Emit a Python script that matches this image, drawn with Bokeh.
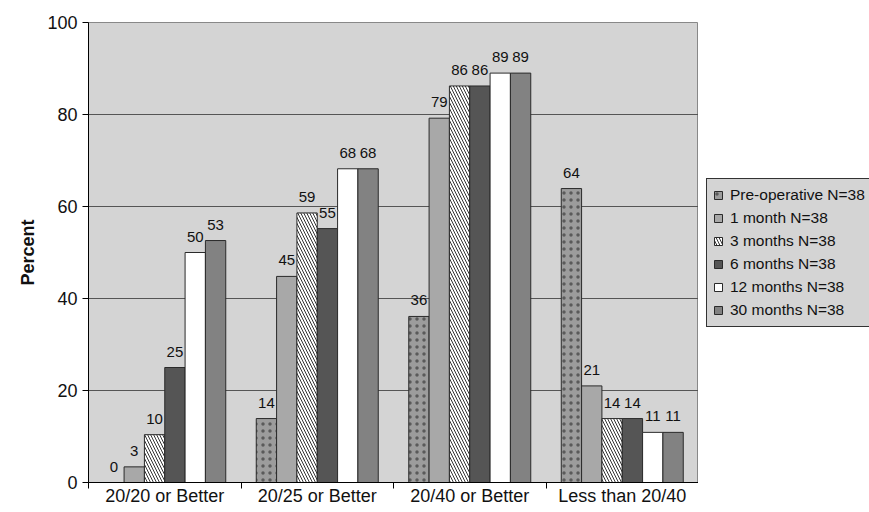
from bokeh.plotting import figure
from bokeh.layouts import row
from bokeh.models import (ColumnDataSource, FixedTicker, Legend, LegendItem,
                          Range1d, LabelSet)
from bokeh.embed import file_html
from bokeh.resources import INLINE
from bokeh.core.properties import value

categories = ["20/20 or Better", "20/25 or Better", "20/40 or Better", "Less than 20/40"]
series = ["Pre-operative N=38", "1 month N=38", "3 months N=38",
          "6 months N=38", "12 months N=38", "30 months N=38"]
pre_op = [0.0, 13.9, 36.1, 63.9]
month_1 = [3.4, 44.8, 79.2, 21.0]
month_3 = [10.4, 58.6, 86.2, 13.9]
month_6 = [25.0, 55.2, 86.2, 13.9]
month_12 = [50.0, 68.2, 89.0, 10.9]
month_30 = [52.6, 68.2, 89.0, 10.9]
y_ticks = [0, 20, 40, 60, 80, 100]

all_values = [pre_op, month_1, month_3, month_6, month_12, month_30]

styles = [
    dict(fill_color="#9c9c9c", hatch_pattern=".", hatch_color="#5a5a5a", hatch_scale=7, hatch_weight=1.2),
    dict(fill_color="#a8a8a8"),
    dict(fill_color="#ffffff", hatch_pattern="\\", hatch_color="#333333", hatch_scale=6, hatch_weight=1),
    dict(fill_color="#555555"),
    dict(fill_color="#ffffff"),
    dict(fill_color="#828282"),
]

FONT = "Liberation Sans"
n_series = len(series)
group_w = 0.8
bar_w = group_w / n_series

W_MAIN, W_LEG, H = 698, 171, 512

p = figure(width=W_MAIN, height=H, output_backend="svg", toolbar_location=None,
           x_range=Range1d(0, len(categories)), y_range=Range1d(0, 100),
           min_border_left=88, min_border_top=22, min_border_bottom=30,
           min_border_right=0)
p.background_fill_color = "#d4d4d4"
p.border_fill_color = "white"
p.outline_line_color = "#888888"
p.outline_line_width = 1

for j, (name, vals, st) in enumerate(zip(series, all_values, styles)):
    xs = [i + (1 - group_w) / 2 + bar_w * (j + 0.5) for i in range(len(categories))]
    src = ColumnDataSource(dict(x=xs, top=vals, lab=[f"{v:.0f}" for v in vals]))
    p.vbar(x="x", top="top", bottom=0, width=bar_w, source=src,
           line_color="#2a2a2a", line_width=1, **st)
    p.add_layout(LabelSet(x="x", y="top", text="lab", source=src, y_offset=11,
                          text_align="center", text_baseline="bottom",
                          text_font=value(FONT), text_font_size="15px",
                          text_color="#111111"))

# axes
xa = p.xaxis[0]
xa.ticker = FixedTicker(ticks=[i + 0.5 for i in range(len(categories))],
                        minor_ticks=list(range(len(categories) + 1)))
xa.major_label_overrides = {i + 0.5: c for i, c in enumerate(categories)}
xa.major_tick_out = 0
xa.major_tick_in = 0
xa.minor_tick_out = 6
xa.minor_tick_in = 0
xa.minor_tick_line_color = "black"
xa.major_label_standoff = -3
xa.major_label_text_font = FONT
xa.major_label_text_font_size = "18px"
xa.major_label_text_color = "#111111"
xa.axis_line_color = "black"

ya = p.yaxis[0]
ya.ticker = FixedTicker(ticks=y_ticks)
ya.major_tick_out = 6
ya.major_tick_in = 0
ya.minor_tick_line_color = None
ya.major_label_standoff = 5
ya.major_label_text_font = FONT
ya.major_label_text_font_size = "18px"
ya.major_label_text_color = "#111111"
ya.axis_label = "Percent"
ya.axis_label_text_font = FONT
ya.axis_label_text_font_size = "18px"
ya.axis_label_text_font_style = "bold"
ya.axis_label_text_color = "#111111"
ya.axis_label_standoff = 6
ya.axis_line_color = "black"

p.xgrid.grid_line_color = None
p.ygrid.ticker = FixedTicker(ticks=y_ticks)
p.ygrid.grid_line_color = "#555555"
p.ygrid.grid_line_width = 1

# legend panel
lf = figure(width=W_LEG, height=H, output_backend="svg", toolbar_location=None,
            x_range=Range1d(0, 1), y_range=Range1d(0, 1),
            x_axis_type=None, y_axis_type=None,
            min_border_left=0, min_border_right=0, min_border_top=0,
            min_border_bottom=0)
lf.outline_line_color = None
lf.grid.grid_line_color = None
lf.background_fill_color = "white"
items = []
for name, st in zip(series, styles):
    r = lf.vbar(x=[10], top=[-10], bottom=-20, width=0.1, line_color="#2a2a2a",
                line_width=1, **st)
    items.append(LegendItem(label=name, renderers=[r]))
legend = Legend(items=items, location=(8, 155), margin=0, padding=6,
                spacing=3, label_height=20, glyph_width=10, glyph_height=10,
                label_standoff=7, label_text_font=FONT,
                label_text_font_size="15.5px", label_text_color="#111111",
                background_fill_color="#d4d4d4", background_fill_alpha=1,
                border_line_color="#333333", border_line_width=1,
                border_line_alpha=1)
lf.add_layout(legend, "center")

layout = row(p, lf, spacing=0)
open("out.html", "w").write(file_html(layout, INLINE))
